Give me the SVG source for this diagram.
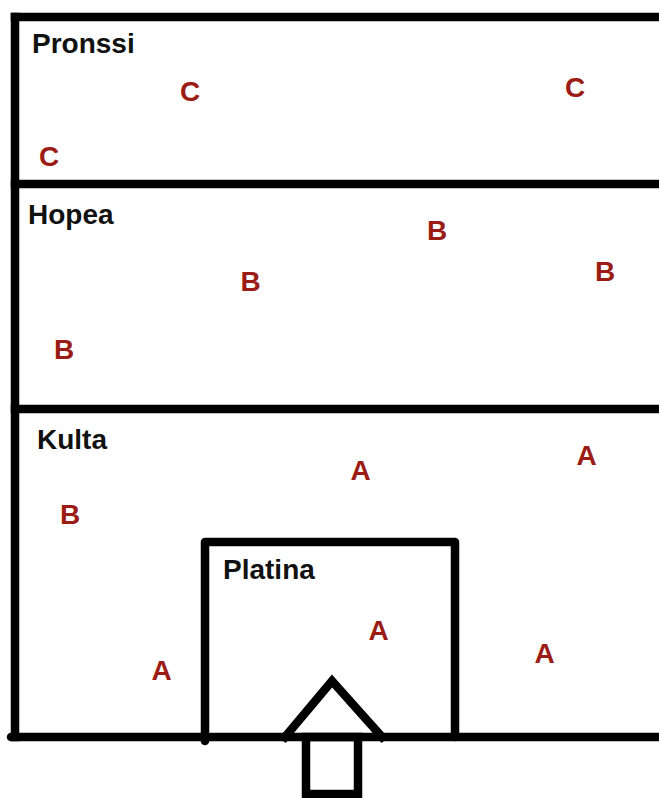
<svg xmlns="http://www.w3.org/2000/svg" width="659" height="798" viewBox="0 0 659 798">
<style>
.ln{stroke:#000;stroke-width:8.5;fill:none;stroke-linecap:square}
.lbl{font-family:"Liberation Sans",Arial,sans-serif;font-weight:bold;font-size:28px;fill:#111}
.g{font-family:"Liberation Sans",Arial,sans-serif;font-weight:bold;font-size:28px;fill:#9a1c14;text-anchor:middle}
</style>
<rect width="659" height="798" fill="#fff"/>
<g id="connectors">
<line class="ln" x1="15" y1="17" x2="663" y2="17"/>
<line class="ln" x1="15" y1="17" x2="15" y2="737"/>
<line class="ln" x1="15" y1="184" x2="663" y2="184"/>
<line class="ln" x1="15" y1="409" x2="663" y2="409"/>
<line class="ln" x1="11" y1="737" x2="663" y2="737" style="stroke-linecap:round"/>
</g>
<g id="pronssi">
<text class="lbl" x="32" y="53">Pronssi</text>
<text class="g" x="190" y="101">C</text>
<text class="g" x="575" y="97">C</text>
<text class="g" x="49" y="166">C</text>
</g>
<g id="hopea">
<text class="lbl" x="28" y="224">Hopea</text>
<text class="g" x="437" y="240">B</text>
<text class="g" x="605" y="281">B</text>
<text class="g" x="250.5" y="291">B</text>
<text class="g" x="64" y="359">B</text>
</g>
<g id="kulta">
<text class="lbl" x="37" y="449">Kulta</text>
<text class="g" x="360.5" y="480">A</text>
<text class="g" x="586.5" y="465">A</text>
<text class="g" x="70" y="524">B</text>
<text class="g" x="161.5" y="680">A</text>
<text class="g" x="544.5" y="663">A</text>
</g>
<g id="platina">
<path class="ln" d="M205 741 V542 H455 V737" style="stroke-linecap:round;stroke-linejoin:round"/>
<text class="lbl" x="223" y="579">Platina</text>
<text class="g" x="378.5" y="640">A</text>
</g>
<g id="entrance">
<path class="ln" d="M285 737 L332 681 L382 737" style="stroke-linejoin:miter"/>
<rect class="ln" x="306" y="737" width="52" height="57"/>
</g>
</svg>
